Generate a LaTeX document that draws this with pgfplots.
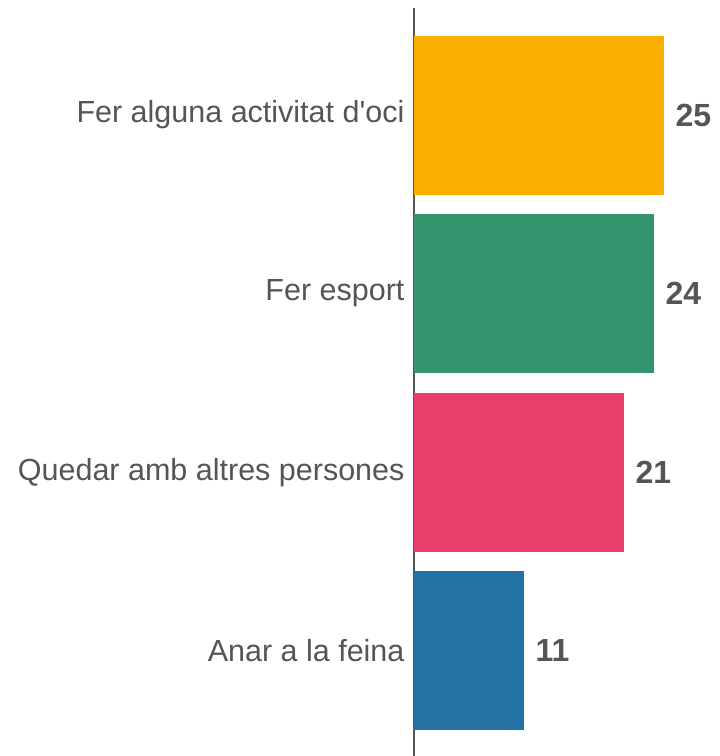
\documentclass[border=0pt]{standalone}
\usepackage{fontspec}
\setmainfont{Liberation Sans}
\usepackage{pgfplots}
\pgfplotsset{compat=1.18}
\definecolor{txt}{HTML}{555555}
\definecolor{cA}{HTML}{F9AE00}
\definecolor{cB}{HTML}{33946E}
\definecolor{cC}{HTML}{E83E6C}
\definecolor{cD}{HTML}{2372A3}
\begin{document}
\begin{tikzpicture}[x=1pt,y=1pt]
\path[use as bounding box] (0,0) rectangle (720,756);
\begin{axis}[
  at={(414pt,0pt)},
  scale only axis, width=300pt, height=748pt,
  xmin=0, xmax=30, ymin=-0.59, ymax=3.6,
  anchor=south west,
  axis x line=none,
  axis y line=left,
  y axis line style={-, draw=txt, line width=1.4pt},
  ytick={0,1,2,3},
  yticklabels={Anar a la feina, Quedar amb altres persones, Fer esport, Fer alguna activitat d\textquotesingle oci},
  major tick length=0pt,
  yticklabel style={font=\fontsize{30.5}{36}\selectfont, text=txt, xshift=-6pt},
  xbar, bar width=0.89, bar shift=0pt,
  nodes near coords,
  /pgf/number format/assume math mode=true,
  every node near coord/.append style={font=\fontsize{32}{38}\selectfont\bfseries, text=txt, xshift=8pt},
]
\addplot[draw=none, fill=cD] coordinates {(11,0)};
\addplot[draw=none, fill=cC] coordinates {(21,1)};
\addplot[draw=none, fill=cB] coordinates {(24,2)};
\addplot[draw=none, fill=cA] coordinates {(25,3)};
\end{axis}
\end{tikzpicture}
\end{document}
